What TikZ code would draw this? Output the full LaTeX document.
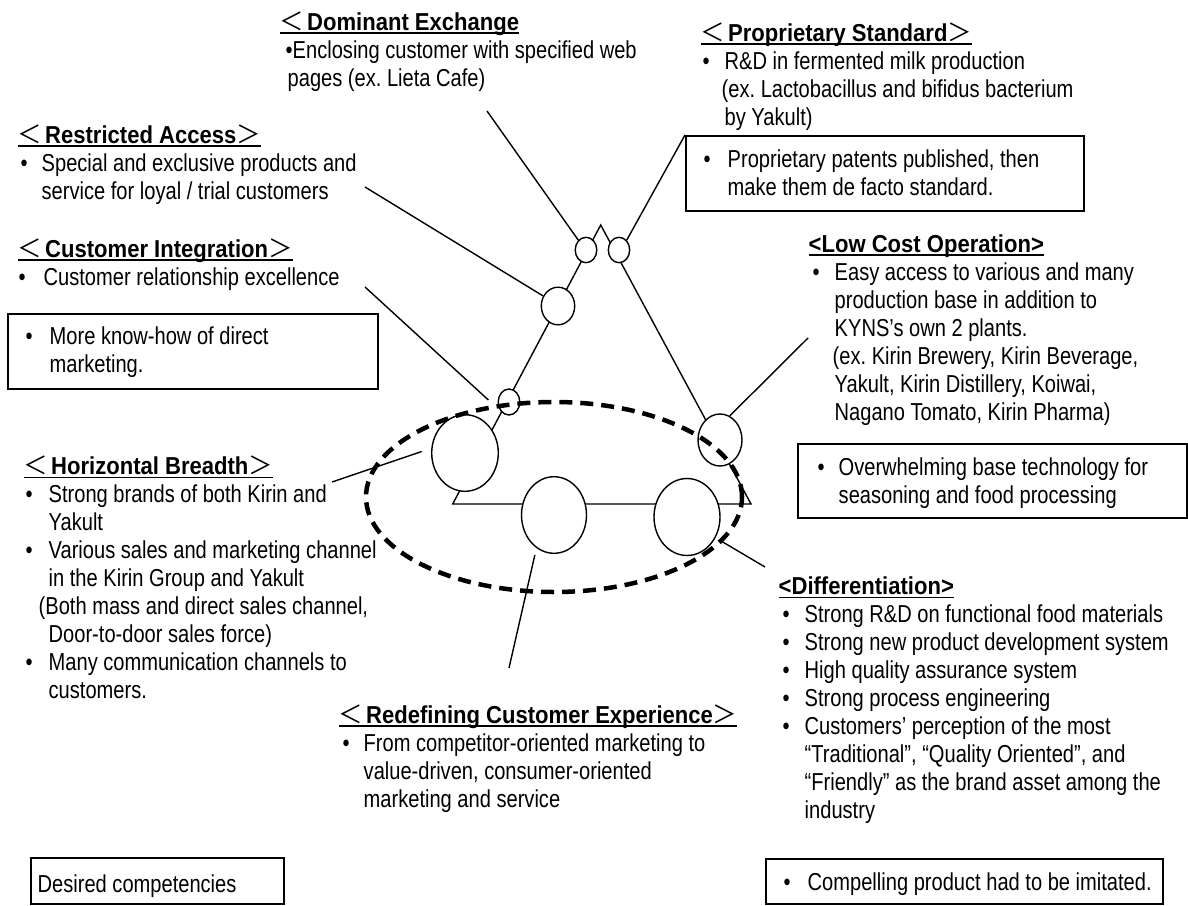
\documentclass[tikz,border=0pt]{standalone}
\usepackage{fontspec}
\setmainfont{Liberation Sans}[FakeStretch=0.82]
\newfontfamily\hdfont{Liberation Sans}[FakeStretch=0.9]
\newfontfamily\cjk{Noto Sans CJK JP}
\usetikzlibrary{shapes.geometric}
\frenchspacing

\newlength\ulwd
\newcommand{\hd}[1]{{\hdfont\bfseries #1}}
\newcommand{\lbr}{{\cjk\mdseries ＜}\hspace{3pt}}
\newcommand{\rbr}{{\cjk\mdseries ＞}}
\newcommand{\ulh}[1]{\settowidth{\ulwd}{#1}\rlap{\rule[-3.5pt]{\ulwd}{1.8pt}}#1}
\newcommand{\bul}[1][22pt]{\makebox[#1][l]{\textbullet}}

\begin{document}
\begin{tikzpicture}[x=1pt,y=-1pt,line width=1.4pt,
  txt/.style={anchor=base west,inner sep=0pt,align=left,font=\fontsize{24.5}{27.9}\selectfont},
  circ/.style={ellipse,draw,fill=white,inner sep=0pt},
  box/.style={draw,line width=1.8pt,anchor=north west,inner sep=0pt},
  rim/.style={dash pattern=on 13pt off 8pt,line width=4.5pt}]
  \useasboundingbox (0,0) rectangle (1188,905);

  % The triangle.
  \coordinate (apex) at (600.7,225);
  \coordinate (baseL) at (452.7,504);
  \coordinate (baseR) at (751,504);
  \draw (apex) -- (baseL) -- (baseR) -- cycle;

  % Circles sitting on the triangle.
  \node[circ,minimum width=21.6pt,minimum height=25.4pt] (cTL) at (586,250) {};
  \node[circ,minimum width=21.4pt,minimum height=25.4pt] (cTR) at (619,250) {};
  \node[circ,minimum width=33.4pt,minimum height=37.6pt] (cRA) at (558,306) {};
  \node[circ,minimum width=21.6pt,minimum height=26pt] (cCI) at (509,402) {};
  \node[circ,minimum width=66.6pt,minimum height=76.6pt] (cHB) at (465,453) {};
  \node[circ,minimum width=44pt,minimum height=52pt] (cLC) at (720,440) {};
  \node[circ,minimum width=65pt,minimum height=76.6pt] (cRE) at (554,515) {};
  \node[circ,minimum width=66pt,minimum height=77pt] (cDF) at (687,517) {};

  % Left column (each text sits on the baseline of its last line).
  \node[txt] (deTxt) at (279,86) {\ulh{\hd{\lbr Dominant Exchange}}\\
    \hspace*{6pt}\textbullet Enclosing customer with specified web\\
    \hspace*{8pt}pages (ex. Lieta Cafe)};
  \node[txt] (raTxt) at (17,199) {\ulh{\hd{\lbr Restricted Access\rbr}}\\
    \hspace*{3pt}\bul[21pt]Special and exclusive products and\\
    \hspace*{24pt}service for loyal / trial customers};
  \node[txt] (ciTxt) at (17,285) {\ulh{\hd{\lbr Customer Integration\rbr}}\\
    \hspace*{1pt}\bul[25pt]Customer relationship excellence};
  \node[box,minimum width=370pt,minimum height=75pt] (ciBox) at (7,313) {};
  \node[txt] (ciNote) at (25,372) {\bul[24pt]More know-how of direct\\
    \hspace*{24pt}marketing.};
  \node[txt] (hbTxt) at (23,698) {\ulh{\hd{\lbr Horizontal Breadth\rbr}}\\
    \hspace*{2pt}\bul[23pt]Strong brands of both Kirin and\\
    \hspace*{25pt}Yakult\\
    \hspace*{2pt}\bul[23pt]Various sales and marketing channel\\
    \hspace*{25pt}in the Kirin Group and Yakult\\
    \hspace*{15pt}(Both mass and direct sales channel,\\
    \hspace*{25pt}Door-to-door sales force)\\
    \hspace*{2pt}\bul[23pt]Many communication channels to\\
    \hspace*{25pt}customers.};
  \node[txt] (reTxt) at (338,807) {\ulh{\hd{\lbr Redefining Customer Experience\rbr}}\\
    \hspace*{4pt}\bul[21pt]From competitor-oriented marketing to\\
    \hspace*{25pt}value-driven, consumer-oriented\\
    \hspace*{25pt}marketing and service};
  \node[box,minimum width=253pt,minimum height=46pt] (dcBox) at (30,857) {};
  \node[txt] (dcTxt) at (37,892) {Desired competencies};

  % Right column.
  \node[txt] (psTxt) at (700,125) {\ulh{\hd{\lbr Proprietary Standard\rbr}}\\
    \hspace*{2pt}\bul[22pt]R\&D in fermented milk production\\
    \hspace*{21pt}(ex. Lactobacillus and bifidus bacterium\\
    \hspace*{24pt}by Yakult)};
  \node[box,minimum width=398pt,minimum height=75pt] (psBox) at (685,135) {};
  \node[txt] (psNote) at (703,195) {\bul[24pt]Proprietary patents published, then\\
    \hspace*{24pt}make them de facto standard.};
  \node[txt] (lcTxt) at (808,420) {\ulh{\hd{<Low Cost Operation>}}\\
    \hspace*{4pt}\bul[22pt]Easy access to various and many\\
    \hspace*{26pt}production base in addition to\\
    \hspace*{26pt}KYNS's own 2 plants.\\
    \hspace*{24pt}(ex. Kirin Brewery, Kirin Beverage,\\
    \hspace*{26pt}Yakult, Kirin Distillery, Koiwai,\\
    \hspace*{26pt}Nagano Tomato, Kirin Pharma)};
  \node[box,minimum width=389pt,minimum height=74pt] (lcBox) at (797,443) {};
  \node[txt] (lcNote) at (817,503) {\bul[21pt]Overwhelming base technology for\\
    \hspace*{21pt}seasoning and food processing};
  \node[txt] (dfTxt) at (778,818) {\ulh{\hd{<Differentiation>}}\\
    \hspace*{4pt}\bul[22pt]Strong R\&D on functional food materials\\
    \hspace*{4pt}\bul[22pt]Strong new product development system\\
    \hspace*{4pt}\bul[22pt]High quality assurance system\\
    \hspace*{4pt}\bul[22pt]Strong process engineering\\
    \hspace*{4pt}\bul[22pt]Customers’ perception of the most\\
    \hspace*{26pt}“Traditional”, “Quality Oriented”, and\\
    \hspace*{26pt}“Friendly” as the brand asset among the\\
    \hspace*{26pt}industry};
  \node[box,minimum width=397pt,minimum height=45pt] (dfBox) at (765,858) {};
  \node[txt] (dfNote) at (783,890) {\bul[24pt]Compelling product had to be imitated.};

  % Pointers from the texts to the circles.
  \coordinate (deS) at (487,111);
  \coordinate (raS) at (365,187);
  \coordinate (ciS) at (365,287);
  \coordinate (hbS) at (332,482);
  \coordinate (reS) at (509,668);
  \coordinate (lcS) at (808,338);
  \coordinate (dfS) at (765,567);
  \draw (deS) -- (cTL.128);
  \draw (psBox.north west) -- (cTR.52);
  \draw (raS) -- (cRA.146);
  \draw[shorten >=16pt] (ciS) -- (cCI.225);
  \draw[shorten >=10pt] (hbS) -- (cHB.172);
  \draw[shorten >=7pt] (reS) -- (cRE.242);
  \draw (lcS) -- (cLC.68);
  \draw[shorten >=8pt] (dfS) -- (cDF.-36);

  % Dashed rim round the base.
  \draw[rim] (554,497) ellipse [x radius=188pt,y radius=95pt];
\end{tikzpicture}
\end{document}
